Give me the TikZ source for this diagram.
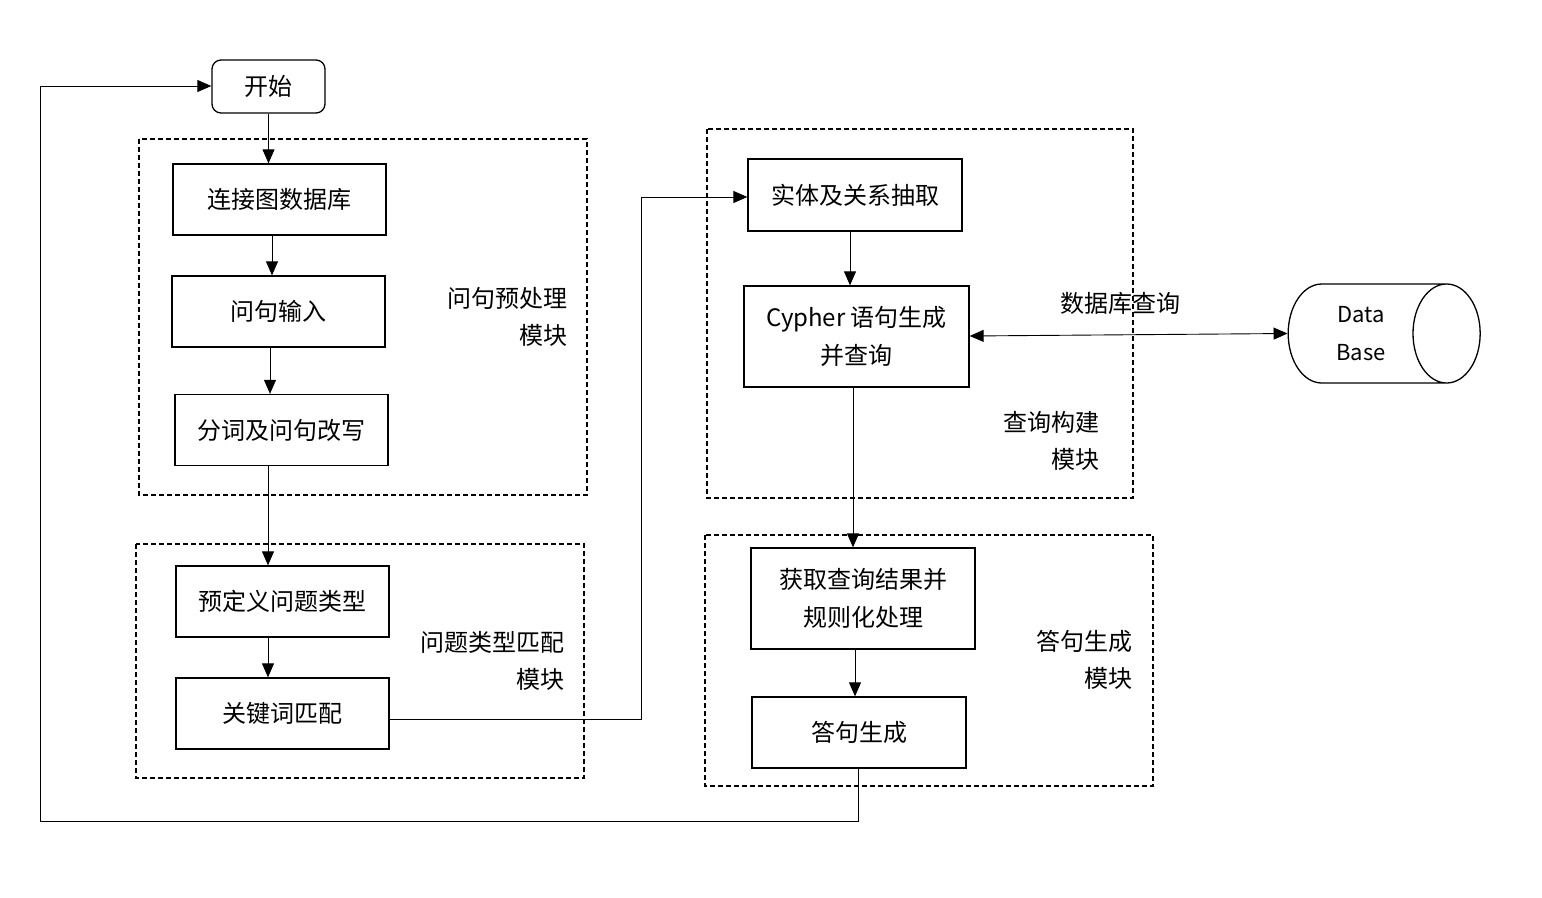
\documentclass[tikz,border=0pt]{standalone}
\usepackage{fontspec}
\setmainfont{Noto Sans CJK SC}
\usetikzlibrary{arrows.meta,shapes.geometric}

\tikzset{
  stepbox/.style={draw, line width=1.3pt, minimum width=213pt, minimum height=71pt, inner sep=0pt, align=center, font=\fontsize{24}{38}\selectfont},
  modframe/.style={draw, line width=1.2pt, dash pattern=on 5pt off 3pt},
  modlabel/.style={anchor=east, align=right, inner sep=0pt, font=\fontsize{24}{37}\selectfont},
  flow/.style={line width=0.9pt, -{Triangle[length=14pt, width=12pt]}}
}

\begin{document}
\begin{tikzpicture}[x=1pt,y=1pt,yscale=-1,xscale=1]
\useasboundingbox (0,0) rectangle (1542,897);

%Dashed module frames
\draw [modframe] (139,139) rectangle (587,495) ;
\draw [modframe] (136,544) rectangle (584,778) ;
\draw [modframe] (707,129) rectangle (1133,498) ;
\draw [modframe] (705,535) rectangle (1153,786) ;

%Start node
\node [stepbox, rounded corners=9pt, minimum width=113pt, minimum height=53pt] (start) at (268.5,86.5) {开始};

%Preprocessing steps
\node [stepbox] (connect) at (279.5,199.5) {连接图数据库};
\node [stepbox] (input) at (278.5,311.5) {问句输入};
\node [stepbox] (rewrite) at (281.5,430) {分词及问句改写};

%Question type matching steps
\node [stepbox] (qtype) at (282.5,601.5) {预定义问题类型};
\node [stepbox] (keyword) at (282.5,713.5) {关键词匹配};

%Query building steps
\node [stepbox, minimum width=214pt, minimum height=72pt] (extract) at (855,195) {实体及关系抽取};
\node [stepbox, minimum width=225pt, minimum height=101pt] (cypher) at (856.5,336.5) {Cypher 语句生成\\并查询};

%Answer generation steps
\node [stepbox, minimum width=224pt, minimum height=101pt] (result) at (863,598.5) {获取查询结果并\\规则化处理};
\node [stepbox, minimum width=214pt] (answer) at (859,732.5) {答句生成};

%Database
\node [cylinder, draw, line width=1.3pt, minimum height=192pt, minimum width=99pt, aspect=1.1, align=center, font=\fontsize{22}{38}\selectfont] (db) at (1361,333.5) {Data\\Base};

% Text Node
\node [modlabel] (lblpre) at (568,316.5) {问句预处理\\模块};
% Text Node
\node [modlabel] (lblmatch) at (565,661) {问题类型匹配\\模块};
% Text Node
\node [modlabel] (lblquery) at (1100,440.5) {查询构建\\模块};
% Text Node
\node [modlabel] (lblans) at (1133,660) {答句生成\\模块};
% Text Node
\node [inner sep=0pt, font=\fontsize{24}{30}\selectfont] (lbldb) at (1120,303) {数据库查询};

%Connectors
\draw [flow] (start.south) -- (start.south |- connect.north) ;
\draw [flow] (connect.south -| 272,0) -- (input.north -| 272,0) ;
\draw [flow] (input.south -| 270,0) -- (rewrite.north -| 270,0) ;
\draw [flow] (rewrite.south -| 268,0) -- (qtype.north -| 268,0) ;
\draw [flow] (qtype.south -| 268,0) -- (keyword.north -| 268,0) ;
\draw [flow] (keyword.east |- 0,719) -- (641,719) -- (641,197) -- (extract.west |- 0,197) ;
\draw [flow] (extract.south -| 850,0) -- (cypher.north -| 850,0) ;
\draw [flow] (cypher.south -| 853,0) -- (result.north -| 853,0) ;
\draw [flow] (result.south -| 855,0) -- (answer.north -| 855,0) ;
\draw [line width=0.9pt, {Triangle[length=14pt, width=12pt]}-{Triangle[length=14pt, width=12pt]}] (cypher.east |- 0,336) -- (db.west) ;
\draw [flow] (answer.south -| 858,0) -- (858,821) -- (40,821) -- (40,86) -- (start.west |- 0,86) ;

\end{tikzpicture}
\end{document}
